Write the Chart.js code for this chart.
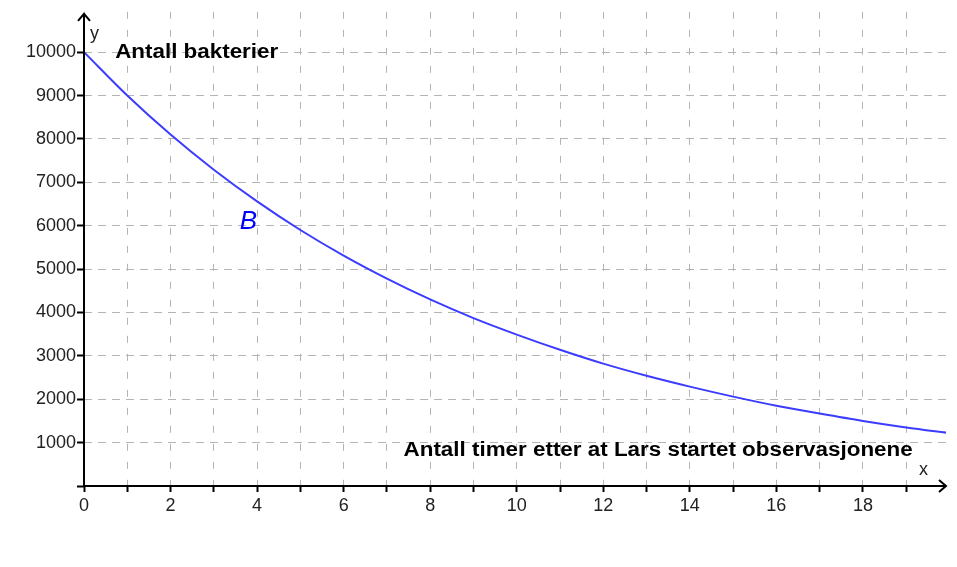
<!DOCTYPE html>
<html>
<head>
<meta charset="utf-8">
<script src="https://cdn.jsdelivr.net/npm/chart.js@4.4.0/dist/chart.umd.min.js"></script>
<style>
html, body { margin: 0; padding: 0; background: #fff; }
</style>
</head>
<body>
<canvas id="myChart" width="957" height="567"></canvas>
<script>
// hours after start, bacteria count
var hours = [0, 1, 2, 3, 4, 5, 6, 7, 8, 9, 10, 11, 12, 13, 14, 15, 16, 17, 18, 19, 20];
var bacteria = [10000, 9000, 8100, 7290, 6560, 5900, 5310, 4780, 4300, 3870, 3490, 3140, 2820, 2540, 2290, 2060, 1850, 1670, 1500, 1350, 1220];
var xGrid = [0, 1, 2, 3, 4, 5, 6, 7, 8, 9, 10, 11, 12, 13, 14, 15, 16, 17, 18, 19];
var xTickLabels = [0, 2, 4, 6, 8, 10, 12, 14, 16, 18];
var yGrid = [0, 1000, 2000, 3000, 4000, 5000, 6000, 7000, 8000, 9000, 10000];
var yTickLabels = [1000, 2000, 3000, 4000, 5000, 6000, 7000, 8000, 9000, 10000];

var yTitle = "Antall bakterier";
var xTitle = "Antall timer etter at Lars startet observasjonene";
var curveName = "B";

var FONT = "'Liberation Sans', Arial, sans-serif";

//Stretched bold text, the original labels are a bit wider than Arial
function wideText(ctx, text, x, y, align) {
    var sx = 1.12;
    var w = ctx.measureText(text).width * sx;
    var left = align === 'right' ? x - w : x;
    ctx.save();
    ctx.translate(left, y);
    ctx.scale(sx, 1);
    ctx.textAlign = 'left';
    ctx.fillText(text, 0, 0);
    ctx.restore();
}

//Draw arrowed axes and text labels on top of the chart
var axesPlugin = {
    id: 'axes',
    afterDatasetsDraw: function (chart) {
        var ctx = chart.ctx;
        var xs = chart.scales.x, ys = chart.scales.y;
        var x0 = xs.getPixelForValue(0), y0 = ys.getPixelForValue(0);
        var right = chart.chartArea.right, top = chart.chartArea.top + 2;
        ctx.save();
        ctx.strokeStyle = '#000';
        ctx.lineWidth = 2;
        ctx.beginPath();
        ctx.moveTo(x0, y0);
        ctx.lineTo(right, y0);
        ctx.moveTo(right - 7, y0 - 6);
        ctx.lineTo(right, y0);
        ctx.lineTo(right - 7, y0 + 6);
        ctx.moveTo(x0, y0);
        ctx.lineTo(x0, top);
        ctx.moveTo(x0 - 6, top + 7);
        ctx.lineTo(x0, top);
        ctx.lineTo(x0 + 6, top + 7);
        ctx.stroke();

        ctx.fillStyle = '#222';
        ctx.font = '18px ' + FONT;
        ctx.textAlign = 'left';
        ctx.textBaseline = 'alphabetic';
        ctx.fillText('y', x0 + 6, top + 25);
        ctx.fillText('x', right - 27, y0 - 11);

        ctx.fillStyle = '#000';
        ctx.font = 'bold 20px ' + FONT;
        ctx.textBaseline = 'middle';
        wideText(ctx, yTitle, xs.getPixelForValue(0.72), ys.getPixelForValue(10000), 'left');
        wideText(ctx, xTitle, xs.getPixelForValue(19.15), ys.getPixelForValue(830), 'right');

        ctx.fillStyle = '#0000ff';
        ctx.font = 'italic 26px ' + FONT;
        ctx.textAlign = 'center';
        ctx.fillText(curveName, xs.getPixelForValue(3.8), ys.getPixelForValue(6080));
        ctx.restore();
    }
};

var ctx = document.getElementById("myChart").getContext("2d");

var chart = new Chart(ctx, {
    type: 'line',
    data: {
        datasets: [{
            data: hours.map(function (h, i) { return { x: h, y: bacteria[i] }; }),
            borderColor: '#3c3cff',
            borderWidth: 2,
            pointRadius: 0,
            fill: false,
            cubicInterpolationMode: 'monotone'
        }]
    },
    options: {
        responsive: false,
        animation: false,
        layout: { padding: { top: 11, right: 11, left: 0, bottom: 0 } },
        plugins: {
            legend: { display: false },
            tooltip: { enabled: false }
        },
        scales: {
            x: {
                type: 'linear',
                min: 0,
                max: 19.92,
                afterFit: function (s) { s.height = 81; },
                afterBuildTicks: function (s) { s.ticks = xGrid.map(function (v) { return { value: v }; }); },
                border: { display: false, dash: [7, 11] },
                grid: { color: '#b4b4b4', tickColor: '#000', tickWidth: 2, tickLength: 6 },
                ticks: {
                    maxRotation: 0,
                    autoSkip: false,
                    padding: 3,
                    color: '#222',
                    font: { family: FONT, size: 18 },
                    callback: function (v) { return xTickLabels.indexOf(v) >= 0 ? String(v) : ''; }
                }
            },
            y: {
                type: 'linear',
                min: 0,
                max: 10930,
                afterFit: function (s) { s.width = 84; },
                afterBuildTicks: function (s) { s.ticks = yGrid.map(function (v) { return { value: v }; }); },
                border: { display: false, dash: [8, 6] },
                grid: { color: '#b4b4b4', tickColor: '#000', tickWidth: 2, tickLength: 7 },
                ticks: {
                    autoSkip: false,
                    padding: 1,
                    color: '#222',
                    font: { family: FONT, size: 18 },
                    callback: function (v) { return yTickLabels.indexOf(v) >= 0 ? String(v) : ''; }
                }
            }
        }
    },
    plugins: [axesPlugin]
});
</script>
</body>
</html>
